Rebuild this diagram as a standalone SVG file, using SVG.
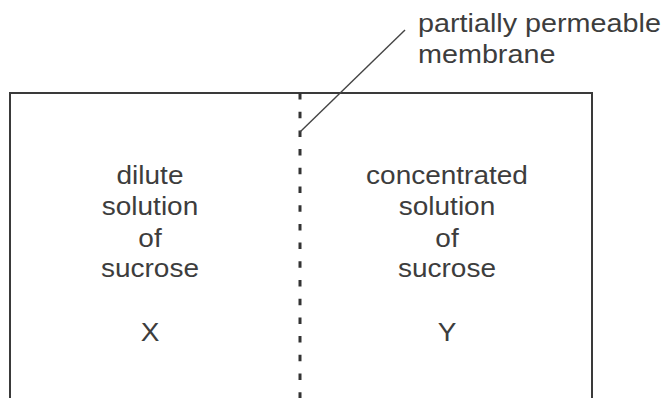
<svg xmlns="http://www.w3.org/2000/svg" width="665" height="398" viewBox="0 0 665 398">
<style>
.t{font-family:"Liberation Sans",Arial,sans-serif;font-size:25px;fill:#3d3d3d}
.c{text-anchor:middle}
.box{fill:none;stroke:#3a3a3a;stroke-width:2}
.mem{fill:none;stroke:#333;stroke-width:3;stroke-dasharray:6.5 12.2}
.lead{fill:none;stroke:#444;stroke-width:1.4}
</style>
<rect width="665" height="398" fill="#fff"/>
<g id="container">
<path class="box" d="M10 398 V93 H592 V398"/>
</g>
<g id="membrane">
<line class="mem" x1="300" y1="93" x2="300" y2="398"/>
</g>
<g id="connectors">
<line class="lead" x1="300" y1="132" x2="405" y2="30"/>
</g>
<g id="label-membrane">
<text class="t" transform="translate(418 32) scale(1.15 1)">partially permeable</text>
<text class="t" transform="translate(418 63) scale(1.15 1)">membrane</text>
</g>
<g id="solution-x">
<text class="t c" transform="translate(150 184) scale(1.12 1)">dilute</text>
<text class="t c" transform="translate(150 215) scale(1.12 1)">solution</text>
<text class="t c" transform="translate(150 247) scale(1.12 1)">of</text>
<text class="t c" transform="translate(150 277) scale(1.12 1)">sucrose</text>
<text class="t c" transform="translate(150 341) scale(1.12 1)">X</text>
</g>
<g id="solution-y">
<text class="t c" transform="translate(447 184) scale(1.12 1)">concentrated</text>
<text class="t c" transform="translate(447 215) scale(1.12 1)">solution</text>
<text class="t c" transform="translate(447 247) scale(1.12 1)">of</text>
<text class="t c" transform="translate(447 277) scale(1.12 1)">sucrose</text>
<text class="t c" transform="translate(447 341) scale(1.12 1)">Y</text>
</g>
</svg>
